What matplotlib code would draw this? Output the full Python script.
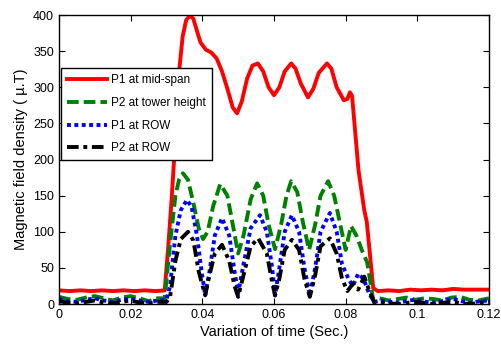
import numpy as np
import matplotlib.pyplot as plt

plt.rcParams['font.family'] = ['Liberation Sans', 'DejaVu Sans']

# P1 at mid-span
t_red = [0, 0.003, 0.006, 0.009, 0.012, 0.015, 0.018, 0.021, 0.024, 0.027, 0.0295,
         0.0305, 0.0315, 0.0325, 0.0335, 0.0345, 0.0355, 0.0365, 0.0375, 0.0385, 0.0395,
         0.041, 0.0425, 0.044, 0.0455, 0.047, 0.0485, 0.0497, 0.051, 0.0525, 0.054,
         0.0555, 0.057, 0.0585, 0.060, 0.0615, 0.063, 0.0648, 0.066, 0.0675, 0.0695,
         0.071, 0.0725, 0.0748, 0.076, 0.0775, 0.0795, 0.0805, 0.0812, 0.0818, 0.0836,
         0.0852, 0.0859, 0.0877, 0.089, 0.092, 0.095, 0.098, 0.101, 0.104, 0.107,
         0.110, 0.113, 0.116, 0.120]
b_red = [19, 18, 19, 18, 19, 18, 19, 18, 19, 18, 19,
         80, 150, 230, 320, 370, 393, 399, 395, 378, 362,
         352, 348, 340, 322, 298, 272, 264, 280, 312, 330,
         333, 322, 300, 289, 300, 322, 333, 326, 305, 286,
         298, 320, 333, 326, 300, 282, 284, 293, 288, 185,
         130, 114, 22, 18, 19, 18, 20, 19, 20, 19,
         21, 20, 20, 20]

# P2 at tower height
t_green = [0, 0.0025, 0.005, 0.0075, 0.01, 0.0125, 0.015, 0.0175, 0.02, 0.0225, 0.025,
           0.0275, 0.0295, 0.031, 0.0325, 0.0335, 0.0346, 0.036, 0.0375, 0.039, 0.0402,
           0.0415, 0.043, 0.045, 0.047, 0.0485, 0.050, 0.0515, 0.0535, 0.0553, 0.057,
           0.0585, 0.0603, 0.062, 0.0635, 0.0648, 0.0665, 0.068, 0.0698, 0.0715, 0.073,
           0.0751, 0.0768, 0.0785, 0.0800, 0.0815, 0.083, 0.0845, 0.086, 0.0877, 0.0895,
           0.092, 0.0945, 0.097, 0.0995, 0.102, 0.1045, 0.107, 0.1095, 0.112, 0.1145,
           0.117, 0.120]
b_green = [10, 7, 6, 9, 11, 8, 5, 9, 11, 8, 4,
           8, 8, 84, 150, 172, 181, 172, 140, 105, 90,
           100, 135, 166, 150, 110, 70, 95, 145, 167, 150,
           110, 76, 110, 150, 170, 155, 115, 75, 110, 150,
           170, 150, 110, 75, 108, 95, 75, 58, 6, 8,
           5, 7, 9, 6, 8, 7, 5, 9, 10, 6,
           5, 8]

# P1 at ROW
t_blue = [0, 0.0025, 0.005, 0.0075, 0.01, 0.0125, 0.015, 0.0175, 0.02, 0.0225, 0.025,
          0.0275, 0.030, 0.031, 0.0325, 0.034, 0.0357, 0.037, 0.0385, 0.0398, 0.0408,
          0.042, 0.0435, 0.0455, 0.0475, 0.049, 0.050, 0.0515, 0.0535, 0.0561, 0.058,
          0.0595, 0.0603, 0.0615, 0.063, 0.065, 0.067, 0.0685, 0.070, 0.0715, 0.073,
          0.0756, 0.0775, 0.079, 0.0807, 0.082, 0.0835, 0.085, 0.0865, 0.088, 0.090,
          0.0925, 0.095, 0.0975, 0.100, 0.1025, 0.105, 0.1075, 0.110, 0.1125, 0.115,
          0.1175, 0.120]
b_blue = [7, 4, 3, 6, 8, 5, 3, 6, 8, 5, 3,
          5, 6, 25, 95, 130, 144, 135, 95, 45, 12,
          45, 95, 119, 95, 45, 15, 55, 105, 123, 100,
          50, 12, 50, 100, 123, 100, 50, 12, 50, 100,
          126, 100, 55, 36, 25, 42, 35, 15, 3, 5,
          3, 2, 5, 6, 3, 2, 5, 7, 4, 2,
          4, 5]

# P2 at ROW
t_black = [0, 0.0025, 0.005, 0.0075, 0.01, 0.0125, 0.015, 0.0175, 0.02, 0.0225, 0.025,
           0.0275, 0.030, 0.031, 0.0325, 0.034, 0.036, 0.0375, 0.039, 0.0408, 0.042,
           0.0435, 0.0455, 0.0475, 0.049, 0.050, 0.0515, 0.0535, 0.0556, 0.058, 0.0595,
           0.0603, 0.0615, 0.063, 0.065, 0.067, 0.0685, 0.070, 0.0715, 0.073, 0.0756,
           0.0775, 0.079, 0.0805, 0.082, 0.0835, 0.0852, 0.0865, 0.088, 0.090, 0.0925,
           0.095, 0.0975, 0.100, 0.1025, 0.105, 0.1075, 0.110, 0.1125, 0.115, 0.1175,
           0.120]
b_black = [4, 2, 1, 3, 5, 2, 1, 3, 5, 2, 1,
           3, 3, 10, 60, 90, 100, 88, 45, 12, 40,
           70, 82, 60, 25, 10, 40, 80, 91, 70, 30,
           12, 35, 75, 89, 75, 35, 10, 40, 80, 91,
           70, 35, 18, 28, 20, 38, 20, 2, 2, 1,
           0, 2, 3, 1, 0, 2, 3, 1, 0, 2,
           3]

fig = plt.figure(figsize=(5.02, 3.54), dpi=100)
ax = fig.add_axes([0.1175, 0.141, 0.8565, 0.8166])

lw = 2.8
ax.plot(t_red, b_red, color='red', lw=lw, label='P1 at mid-span')
ax.plot(t_green, b_green, color='green', lw=lw, dashes=(3.0, 1.3), label='P2 at tower height')
ax.plot(t_blue, b_blue, color='blue', lw=lw, dashes=(1.0, 0.9), label='P1 at ROW')
ax.plot(t_black, b_black, color='black', lw=lw, dashes=(3.0, 1.2, 1.0, 1.2), label='P2 at ROW')

ax.set_xlim(0, 0.12)
ax.set_ylim(0, 400)
ax.set_xticks(np.arange(0, 0.121, 0.02))
ax.set_xticklabels(['0', '0.02', '0.04', '0.06', '0.08', '0.1', '0.12'])
ax.set_yticks(np.arange(0, 401, 50))
ax.tick_params(direction='in', top=True, right=True, labelsize=9, length=4, width=0.8)
for s in ax.spines.values():
    s.set_linewidth(1.0)

ax.set_xlabel('Variation of time (Sec.)', fontsize=10.5, labelpad=3)
ax.set_ylabel('Magnetic field density ( \u00b5.T)', fontsize=10.5, labelpad=4)

leg = ax.legend(loc='upper left', bbox_to_anchor=(0.005, 0.815), fontsize=8.5,
                handlelength=3.4, handletextpad=0.35, labelspacing=0.9,
                borderpad=0.5, fancybox=False, framealpha=1, borderaxespad=0)
leg.get_frame().set_edgecolor('black')
leg.get_frame().set_linewidth(1.0)

fig.savefig('out.png', dpi=100)
